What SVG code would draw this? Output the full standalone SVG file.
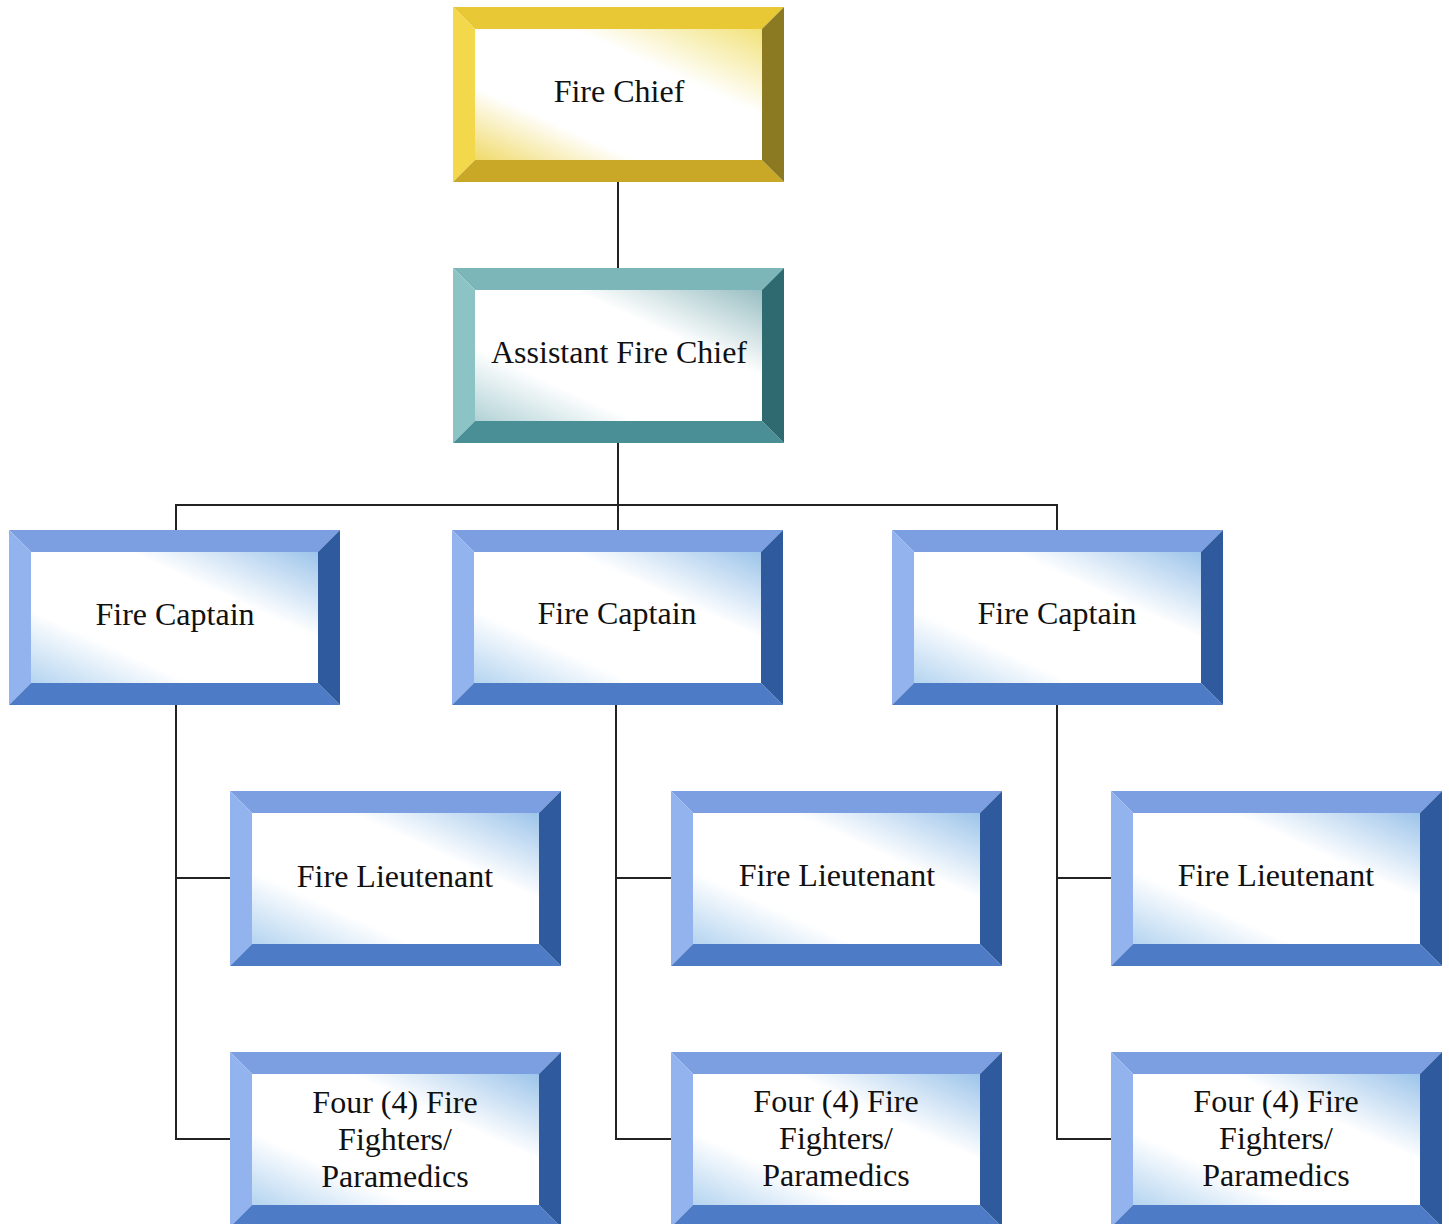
<svg xmlns="http://www.w3.org/2000/svg" xmlns:xlink="http://www.w3.org/1999/xlink" width="1449" height="1224" viewBox="0 0 1449 1224">
<style>
.lbl{font-family:"Liberation Serif","Times New Roman",serif;font-size:32px;fill:#111111;text-anchor:middle}
.conn{stroke:#222;stroke-width:2;fill:none}
</style>
<defs>
<linearGradient id="gBlue" x1="1" y1="0" x2="0" y2="1">
<stop offset="0" stop-color="#9cc4ea"/><stop offset="0.33" stop-color="#ffffff"/><stop offset="0.72" stop-color="#ffffff"/><stop offset="1" stop-color="#b4d4f0"/>
</linearGradient>
<linearGradient id="gGold" x1="1" y1="0" x2="0" y2="1">
<stop offset="0" stop-color="#f2e27a"/><stop offset="0.33" stop-color="#ffffff"/><stop offset="0.72" stop-color="#ffffff"/><stop offset="1" stop-color="#f0da6a"/>
</linearGradient>
<linearGradient id="gTeal" x1="1" y1="0" x2="0" y2="1">
<stop offset="0" stop-color="#98bec2"/><stop offset="0.33" stop-color="#ffffff"/><stop offset="0.72" stop-color="#ffffff"/><stop offset="1" stop-color="#b2d2d6"/>
</linearGradient>
<g id="boxBlue">
<polygon points="0,0 331,0 309,22 22,22" fill="#7b9fe0"/>
<polygon points="0,0 22,22 22,153 0,175" fill="#93b3ef"/>
<polygon points="0,175 22,153 309,153 331,175" fill="#4d7bc6"/>
<polygon points="331,0 331,175 309,153 309,22" fill="#2f5b9e"/>
<rect x="22" y="22" width="287" height="131" fill="url(#gBlue)"/>
</g>
<g id="boxGold">
<polygon points="0,0 331,0 309,22 22,22" fill="#e8c935"/>
<polygon points="0,0 22,22 22,153 0,175" fill="#f2d84a"/>
<polygon points="0,175 22,153 309,153 331,175" fill="#c9a828"/>
<polygon points="331,0 331,175 309,153 309,22" fill="#8c7a22"/>
<rect x="22" y="22" width="287" height="131" fill="url(#gGold)"/>
</g>
<g id="boxTeal">
<polygon points="0,0 331,0 309,22 22,22" fill="#7cb6b8"/>
<polygon points="0,0 22,22 22,153 0,175" fill="#8cc3c5"/>
<polygon points="0,175 22,153 309,153 331,175" fill="#4b8f96"/>
<polygon points="331,0 331,175 309,153 309,22" fill="#2f6a70"/>
<rect x="22" y="22" width="287" height="131" fill="url(#gTeal)"/>
</g>
</defs>
<rect width="1449" height="1224" fill="#ffffff"/>
<g id="connectors">
<line class="conn" x1="618" y1="182" x2="618" y2="268"/>
<line class="conn" x1="618" y1="443" x2="618" y2="530"/>
<polyline class="conn" points="176,530 176,505 1057,505 1057,530"/>
<polyline class="conn" points="176,704 176,1139 230,1139"/>
<line class="conn" x1="176" y1="878" x2="230" y2="878"/>
<polyline class="conn" points="616,704 616,1139 671,1139"/>
<line class="conn" x1="616" y1="878" x2="671" y2="878"/>
<polyline class="conn" points="1057,704 1057,1139 1111,1139"/>
<line class="conn" x1="1057" y1="878" x2="1111" y2="878"/>
</g>
<g id="fire-chief" transform="translate(453,7)"><use xlink:href="#boxGold"/><text class="lbl" x="166" y="95">Fire Chief</text></g>
<g id="assistant-fire-chief" transform="translate(453,268)"><use xlink:href="#boxTeal"/><text class="lbl" x="166" y="95">Assistant Fire Chief</text></g>
<g id="captain-1" transform="translate(9,530)"><use xlink:href="#boxBlue"/><text class="lbl" x="166" y="95">Fire Captain</text></g>
<g id="captain-2" transform="translate(452,530)"><use xlink:href="#boxBlue"/><text class="lbl" x="165" y="94">Fire Captain</text></g>
<g id="captain-3" transform="translate(892,530)"><use xlink:href="#boxBlue"/><text class="lbl" x="165" y="94">Fire Captain</text></g>
<g id="lieutenant-1" transform="translate(230,791)"><use xlink:href="#boxBlue"/><text class="lbl" x="165" y="96">Fire Lieutenant</text></g>
<g id="lieutenant-2" transform="translate(671,791)"><use xlink:href="#boxBlue"/><text class="lbl" x="166" y="95">Fire Lieutenant</text></g>
<g id="lieutenant-3" transform="translate(1111,791)"><use xlink:href="#boxBlue"/><text class="lbl" x="165" y="95">Fire Lieutenant</text></g>
<g id="firefighters-1" transform="translate(230,1052)"><use xlink:href="#boxBlue"/><text class="lbl" x="165" y="61">Four (4) Fire</text><text class="lbl" x="165" y="98">Fighters/</text><text class="lbl" x="165" y="135">Paramedics</text></g>
<g id="firefighters-2" transform="translate(671,1052)"><use xlink:href="#boxBlue"/><text class="lbl" x="165" y="60">Four (4) Fire</text><text class="lbl" x="165" y="97">Fighters/</text><text class="lbl" x="165" y="134">Paramedics</text></g>
<g id="firefighters-3" transform="translate(1111,1052)"><use xlink:href="#boxBlue"/><text class="lbl" x="165" y="60">Four (4) Fire</text><text class="lbl" x="165" y="97">Fighters/</text><text class="lbl" x="165" y="134">Paramedics</text></g>
</svg>
